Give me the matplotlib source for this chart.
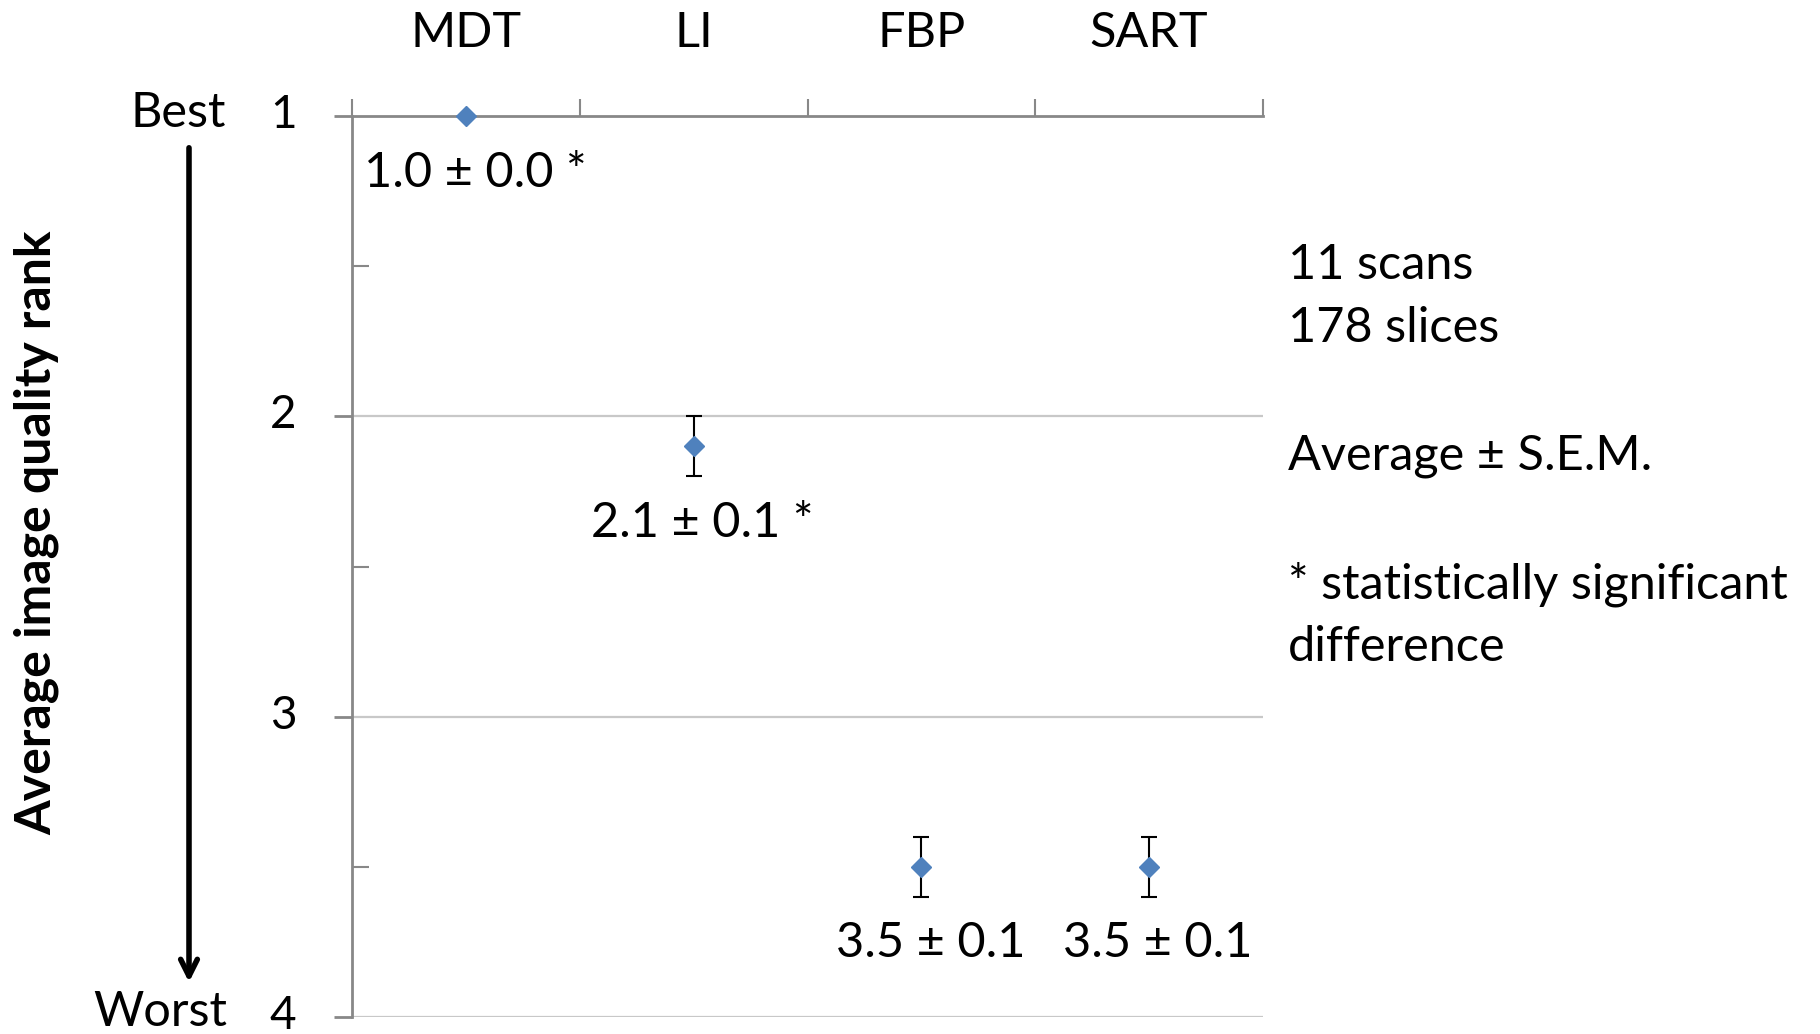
import matplotlib
matplotlib.use("Agg")
import matplotlib.pyplot as plt
import matplotlib.transforms as mtransforms
from matplotlib.ticker import FixedLocator
from matplotlib.patches import FancyArrowPatch

plt.rcParams['font.family'] = ['Lato', 'DejaVu Sans']

categories = ["MDT", "LI", "FBP", "SART"]
means = [1.0, 2.1, 3.5, 3.5]
sems = [0.0, 0.1, 0.1, 0.1]
labels = ["1.0 \u00b1 0.0 *", "2.1 \u00b1 0.1 *", "3.5 \u00b1 0.1", "3.5 \u00b1 0.1"]
y_ticks = [1, 2, 3, 4]
notes = ["11 scans", "178 slices", "Average \u00b1 S.E.M.", "* statistically significant", "difference"]

FS = 35
W, H = 1820, 1034
fig = plt.figure(figsize=(W / 100, H / 100), dpi=100)
ax = fig.add_axes([352 / W, 1 - 1017 / H, (1263 - 352) / W, (1017 - 116) / H])

x = list(range(1, len(categories) + 1))
ax.set_xlim(0.5, len(categories) + 0.5)
ax.set_ylim(4, 1)

grid_c = "#C8C8C8"
axis_c = "#888888"
for yv in y_ticks[1:]:
    ax.axhline(yv, color=grid_c, lw=1.6, zorder=1)

xs = [xi for xi, s in zip(x, sems) if s > 0]
ms = [m for m, s in zip(means, sems) if s > 0]
ss = [s for s in sems if s > 0]
ax.errorbar(xs, ms, yerr=ss, fmt="none", ecolor="black", elinewidth=1.5,
            capsize=6, capthick=1.5, zorder=3)
ax.plot(x, means, linestyle="none", marker="D", markersize=10.5, color="#4F81BD",
        markeredgecolor="#4F81BD", zorder=4, clip_on=False)

for xi, m, s, lab in zip(x, means, sems, labels):
    ax.text(xi + 0.04, m + 0.19 + 0.65 * s, lab, ha="center", va="center", fontsize=FS, color="black")

for side in ["right", "bottom"]:
    ax.spines[side].set_visible(False)
ax.spines["top"].set_color(axis_c)
ax.spines["top"].set_linewidth(2)
ax.spines["left"].set_color(axis_c)
ax.spines["left"].set_linewidth(2)

ax.xaxis.set_ticks_position("top")
ax.set_xticks([i + 0.5 for i in range(0, len(categories) + 1)])
ax.set_xticklabels([])
ax.xaxis.set_minor_locator(FixedLocator(x))
ax.set_xticklabels(categories, minor=True)
ax.tick_params(axis="x", which="major", direction="out", length=12, width=1.5, color=axis_c,
               top=True, bottom=False)
ax.tick_params(axis="x", which="minor", length=0, pad=44, labelsize=FS, top=True, bottom=False,
               labeltop=True, labelbottom=False)

ax.set_yticks(y_ticks)
ax.set_yticklabels([str(v) for v in y_ticks])
ax.yaxis.set_minor_locator(FixedLocator([1.5, 2.5, 3.5]))
ax.tick_params(axis="y", which="major", direction="out", length=13, width=2, color=axis_c,
               labelsize=33, pad=27)
ax.tick_params(axis="y", which="minor", direction="in", length=12, width=1.5, color=axis_c)
shift = mtransforms.ScaledTranslation(0, 5 / 100, fig.dpi_scale_trans)
for lbl in ax.get_yticklabels():
    lbl.set_transform(lbl.get_transform() + shift)

fig.text(178 / W, 1 - 113 / H, "Best", ha="center", va="center", fontsize=FS)
fig.text(160 / W, 1 - 1012 / H, "Worst", ha="center", va="center", fontsize=FS)
fig.patches.append(FancyArrowPatch(
    (189 / W, 1 - 145 / H), (189 / W, 1 - 985 / H), transform=fig.transFigure,
    arrowstyle="->,head_length=12,head_width=6", lw=4, color="black", mutation_scale=1))
fig.text(37 / W, 1 - 533 / H, "Average image quality rank", rotation=90, ha="center", va="center",
         fontsize=36, fontweight="bold")

note_y = [265, 328, 456, 584, 647]
for t, yy in zip(notes, note_y):
    fig.text(1288 / W, 1 - yy / H, t, ha="left", va="center", fontsize=FS)

fig.savefig("out.png", dpi=100, facecolor="white")
